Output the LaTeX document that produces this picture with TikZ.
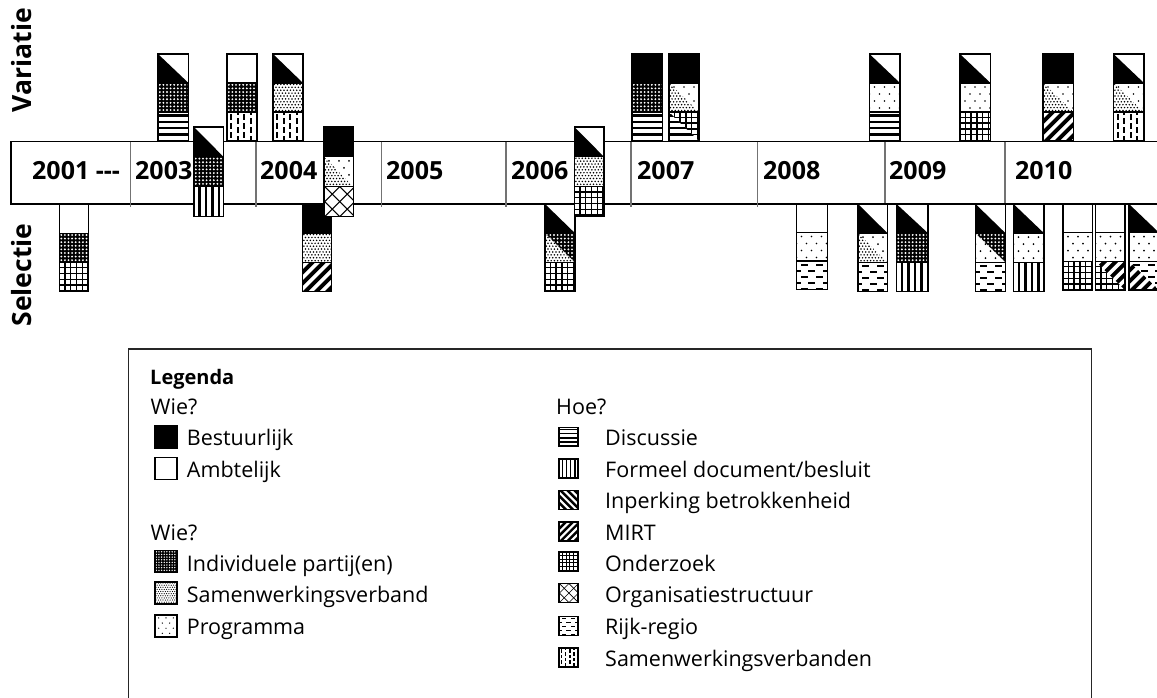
\documentclass[tikz,border=0pt]{standalone}
\usepackage{fontspec}
\setmainfont{Open Sans}
\tikzset{
  cb/.style={line width=1.3pt, draw=black},
  year/.style={font=\fontsize{25}{30}\selectfont\bfseries, anchor=base west, inner sep=0pt},
  side/.style={font=\fontsize{26.5}{30}\selectfont\bfseries, rotate=90, anchor=base, inner sep=0pt},
  leg/.style={font=\fontsize{21.5}{26}\selectfont, anchor=base west, inner sep=0pt},
  legb/.style={font=\fontsize{20}{24}\selectfont\bfseries, anchor=base west, inner sep=0pt},
  barline/.style={line width=1.3pt, draw=black},
  divline/.style={line width=1.3pt, draw=black!55},
}
% patterns: #1 x0, #2 y0, #3 x1, #4 y1 (pixel units, y downwards)
\newcommand\gpatblack[4]{\fill[black] (#1,#2) rectangle (#3,#4);}
\newcommand\gpatwhite[4]{}
\newcommand\gpatdiag[4]{\fill[black] (#1,#2) -- (#1,#4) -- (#3,#4) -- cycle;}
\newcommand\gpatdense[4]{\fill[black] (#1,#2) rectangle (#3,#4);
  \foreach \i in {0,...,8}{\foreach \j in {0,...,8}{\fill[white] ({#1+1.8+\i*3.6},{#2+1.8+\j*3.6}) circle (1.05);}}}
\newcommand\gpatmed[4]{\foreach \i in {0,...,9}{\foreach \j in {0,...,10}{\fill[black] ({#1+1.4+\i*3.2+mod(\j,2)*1.6},{#2+1.4+\j*2.9}) circle (0.85);}}}
\newcommand\gpatsparse[4]{\foreach \i in {0,...,3}{\foreach \j in {0,...,4}{\fill[black] ({#1+5+\i*10-mod(\j,2)*5},{#2+4+\j*7}) circle (0.95);}}}
\newcommand\gpatdisc[4]{\foreach \j in {0,...,4}{\fill[black] ({#1},{#2+2.2+\j*6.4}) rectangle ({#3},{#2+4.6+\j*6.4});}}
\newcommand\gpatform[4]{\foreach \i in {0,...,4}{\fill[black] ({#1+4+\i*6.5},{#2}) rectangle ({#1+6.6+\i*6.5},{#4});}}
\newcommand\gpatgrid[4]{\foreach \i in {0,...,5}{\fill[black] ({#1+4.6+\i*5.8},{#2}) rectangle ({#1+6+\i*5.8},{#4});\fill[black] ({#1},{#2+4.6+\i*5.8}) rectangle ({#3},{#2+6+\i*5.8});}}
\newcommand\gpatmirt[4]{\foreach \i in {-4,...,4}{\fill[black] ({#1+\i*11},{#4}) -- ({#1+\i*11+5.5},{#4}) -- ({#1+\i*11+45.5},{#4-40}) -- ({#1+\i*11+40},{#4-40}) -- cycle;}}
\newcommand\gpatinp[4]{\foreach \i in {-4,...,4}{\fill[black] ({#1+\i*11},{#2}) -- ({#1+\i*11+5.5},{#2}) -- ({#1+\i*11+45.5},{#2+40}) -- ({#1+\i*11+40},{#2+40}) -- cycle;}}
\newcommand\gpatorga[4]{\foreach \i in {-4,...,4}{\fill[black] ({#1+\i*15},{#4}) -- ({#1+\i*15+1.5},{#4}) -- ({#1+\i*15+41.5},{#4-40}) -- ({#1+\i*15+40},{#4-40}) -- cycle;
  \fill[black] ({#1+\i*15},{#2}) -- ({#1+\i*15+1.5},{#2}) -- ({#1+\i*15+41.5},{#2+40}) -- ({#1+\i*15+40},{#2+40}) -- cycle;}}
\newcommand\gpatrr[4]{\foreach \j in {0,2,4}{\fill[black] ({#1+4},{#2+3+\j*6}) rectangle ({#1+11},{#2+4.7+\j*6}); \fill[black] ({#1+19},{#2+3+\j*6}) rectangle ({#1+26},{#2+4.7+\j*6});}
  \foreach \j in {1,3}{\fill[black] ({#1-1},{#2+3+\j*6}) rectangle ({#1+4},{#2+4.7+\j*6}); \fill[black] ({#1+11.5},{#2+3+\j*6}) rectangle ({#1+18.5},{#2+4.7+\j*6}); \fill[black] ({#1+26},{#2+3+\j*6}) rectangle ({#1+31},{#2+4.7+\j*6});}}
\newcommand\gpatsam[4]{\foreach \i in {0,...,4}{\foreach \j in {-1,...,3}{\fill[black] ({#1+3+\i*6.5},{#2+1.5+\j*9+mod(\i,2)*4.5}) rectangle ({#1+5.2+\i*6.5},{#2+7.5+\j*9+mod(\i,2)*4.5});}}}
% split cells: lower-left pattern, upper-right pattern
\newcommand\gsplit[6]{%
  \begin{scope}\clip (#3,#4) -- (#3,#6) -- (#5,#6) -- cycle; \csname gpat#1\endcsname{#3}{#4}{#5}{#6}\end{scope}%
  \begin{scope}\clip (#3,#4) -- (#5,#4) -- (#5,#6) -- cycle; \csname gpat#2\endcsname{#3}{#4}{#5}{#6}\end{scope}}
\newcommand\gpatmedsparse[4]{\gsplit{med}{sparse}{#1}{#2}{#3}{#4}}
\newcommand\gpatmeddense[4]{\gsplit{med}{dense}{#1}{#2}{#3}{#4}}
\newcommand\gpatsparsedense[4]{\gsplit{sparse}{dense}{#1}{#2}{#3}{#4}}
\newcommand\gpatdiscgrid[4]{\gsplit{disc}{grid}{#1}{#2}{#3}{#4}}
\newcommand\gpatgridmirt[4]{\gsplit{grid}{mirt}{#1}{#2}{#3}{#4}}
\newcommand\gpatmirtrr[4]{\gsplit{mirt}{rr}{#1}{#2}{#3}{#4}}
% one cell
\newcommand\gcell[5]{\begin{scope}\clip (#2,#3) rectangle (#4,#5);\csname gpat#1\endcsname{#2}{#3}{#4}{#5}\end{scope}\draw[cb] (#2,#3) rectangle (#4,#5);}
% a three-cell box: x0 x1 ytop ybot top mid bot
\newcommand\gbox[7]{%
  \pgfmathsetmacro\gya{#3+(#4-#3)/3}\pgfmathsetmacro\gyb{#3+2*(#4-#3)/3}%
  \fill[white] (#1,#3) rectangle (#2,#4);
  \gcell{#5}{#1}{#3}{#2}{\gya}\gcell{#6}{#1}{\gya}{#2}{\gyb}\gcell{#7}{#1}{\gyb}{#2}{#4}}
% legend glyph: type, cx, cy, size
\newcommand\lglyph[4]{\begin{scope}[shift={({#2-#4/2},{#3-#4/2})}, scale={#4/30}]\gcell{#1}{0}{0}{30}{30}\end{scope}}

\begin{document}
\begin{tikzpicture}[x=1pt,y=-1pt]
\useasboundingbox (0,0) rectangle (1157,697);
\clip (0,0) rectangle (1157,697);

% side labels
\node[side] (var) at (31,60) {Variatie};
\node[side] (sel) at (31,275) {Selectie};

% time bar
\draw[barline] (11,141.7) rectangle (1180,204);
\foreach \x in {130.7,256,381.7,506,631,757.7,885,1005}{\draw[divline] (\x,141.7) -- (\x,206.5);}
\node[year] (y2001) at (32,179.5) {2001 {-}{-}{-}};
\node[year] (y2003) at (135,179.5) {2003};
\node[year] (y2004) at (260,179.5) {2004};
\node[year] (y2005) at (386,179.5) {2005};
\node[year] (y2006) at (511,179.5) {2006};
\node[year] (y2007) at (637,179.5) {2007};
\node[year] (y2008) at (763,179.5) {2008};
\node[year] (y2009) at (889,179.5) {2009};
\node[year] (y2010) at (1015,179.5) {2010};

% Variatie boxes
\gbox{158}{188.5}{54}{141}{diag}{dense}{disc}
\gbox{227}{257}{54}{141}{white}{dense}{sam}
\gbox{273}{303}{54}{141}{diag}{med}{sam}
\gbox{632}{662.5}{54}{141}{black}{dense}{disc}
\gbox{669}{699}{54}{141}{black}{medsparse}{discgrid}
\gbox{869.5}{900}{54}{141}{diag}{sparse}{disc}
\gbox{960}{990.5}{54}{141}{diag}{sparse}{grid}
\gbox{1043}{1073.5}{54}{141}{black}{medsparse}{mirt}
\gbox{1113.5}{1144}{54}{141}{diag}{medsparse}{sam}

% Selectie boxes
\gbox{59.5}{88.5}{204}{291.5}{white}{dense}{grid}
\gbox{302.5}{331.5}{204}{291.5}{black}{med}{mirt}
\gbox{545}{575}{204}{291.5}{diag}{meddense}{grid}
\gbox{796.5}{827.5}{204}{289.5}{white}{sparse}{rr}
\gbox{858}{887.5}{204}{291.5}{diag}{medsparse}{rr}
\gbox{896.5}{928}{204}{291.5}{diag}{dense}{form}
\gbox{975.5}{1005.5}{204}{291.5}{diag}{sparsedense}{rr}
\gbox{1013.5}{1044}{204}{291.5}{diag}{sparse}{form}
\gbox{1063}{1092.5}{204}{290}{white}{sparse}{grid}
\gbox{1095.5}{1125}{204}{290}{white}{sparse}{gridmirt}
\gbox{1129}{1159}{204}{290}{diag}{sparse}{mirtrr}

% boxes straddling the bar
\gbox{194}{223.5}{127}{216.5}{diag}{dense}{form}
\gbox{324}{353.5}{127}{216.5}{black}{medsparse}{orga}
\gbox{574.5}{604}{127}{216.5}{diag}{med}{grid}

% legend
\draw[line width=1.3pt, draw=black!85] (128.3,349) rectangle (1091.7,720);
\node[legb] (lgd) at (150,384) {Legenda};
\node[leg] (wie1) at (150.5,414.5) {Wie?};
\lglyph{black}{166}{437}{22}
\node[leg] (lbest) at (186.7,445.5) {Bestuurlijk};
\lglyph{white}{166}{468.5}{22}
\node[leg] (lamb) at (186.7,477) {Ambtelijk};
\node[leg] (wie2) at (150.5,540) {Wie?};
\lglyph{dense}{166}{561.5}{22}
\node[leg] (lind) at (186.7,571) {Individuele partij(en)};
\lglyph{med}{166}{593}{22}
\node[leg] (lsam) at (186.7,602.5) {Samenwerkingsverband};
\lglyph{sparse}{166}{626}{22}
\node[leg] (lprog) at (186.7,634.5) {Programma};

\node[leg] (hoe) at (556,414.5) {Hoe?};
\lglyph{disc}{568.5}{437}{19}
\node[leg] (ldisc) at (605,445.5) {Discussie};
\lglyph{form}{568.5}{468.5}{19}
\node[leg] (lform) at (605,477) {Formeel document/besluit};
\lglyph{inp}{568.5}{500}{19}
\node[leg] (linp) at (605,508.5) {Inperking betrokkenheid};
\lglyph{mirt}{568.5}{531.5}{19}
\node[leg] (lmirt) at (605,540) {MIRT};
\lglyph{grid}{568.5}{561.5}{19}
\node[leg] (lond) at (605,571) {Onderzoek};
\lglyph{orga}{568.5}{593}{19}
\node[leg] (lorg) at (605,602.5) {Organisatiestructuur};
\lglyph{rr}{568.5}{626}{19}
\node[leg] (lrr) at (605,634.5) {Rijk-regio};
\lglyph{sam}{568.5}{657.5}{19}
\node[leg] (lsw) at (605,666) {Samenwerkingsverbanden};
\end{tikzpicture}
\end{document}
